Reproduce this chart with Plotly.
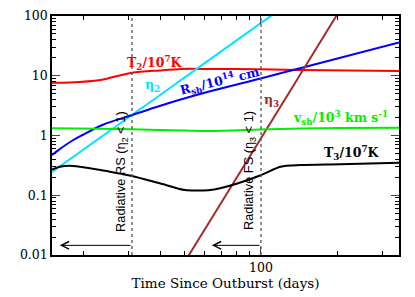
import numpy as np
import plotly.graph_objects as go

# ---- data ----
t2_days = [15, 17.6, 23.3, 31, 40, 48.5, 63, 99.7, 143, 350]
t2_vals = [7.6, 7.7, 8.5, 11.2, 12.3, 13.0, 13.0, 12.8, 12.5, 12.0]

rsh_days = [15, 15.9, 18.2, 19.8, 23.7, 31, 43.4, 63, 99.7, 143.8, 350]
rsh_vals = [0.47, 0.57, 0.84, 1.02, 1.5, 2.2, 3.5, 5.5, 9.0, 13.5, 36]

eta2_days = [15, 31, 60, 115]
eta2_vals = [0.245, 2.2, 16.3, 117]

eta3_days = [48, 52, 100, 198, 210]
eta3_vals = [0.0058, 0.01, 0.9, 100, 150]

vsh_days = [15, 23, 31, 50, 63, 100, 143, 205, 350]
vsh_vals = [1.32, 1.3, 1.27, 1.21, 1.19, 1.26, 1.31, 1.33, 1.35]

t3_days = [15, 16.1, 18.1, 23.3, 27.8, 31, 39.6, 50.2, 57.4, 63, 75.3, 99.7, 119.5, 143, 205, 350]
t3_vals = [0.27, 0.30, 0.31, 0.265, 0.23, 0.21, 0.16, 0.122, 0.12, 0.122, 0.144, 0.216, 0.30, 0.32, 0.33, 0.35]

rs_day = 31
fs_day = 100

x_ticks = [100]
x_ticklabels = ["100"]
y_ticks = [0.01, 0.1, 1, 10, 100]
y_ticklabels = ["0.01", "0.1", "1", "10", "100"]

FONT = "DejaVu Serif"
SANS = "Liberation Sans"

fig = go.Figure()

def add(x, y, color):
    fig.add_trace(go.Scatter(x=x, y=y, mode="lines", line=dict(color=color, width=2, shape="spline", smoothing=0.8),
                             showlegend=False, hoverinfo="skip"))

add(t2_days, t2_vals, "#ff0000")
add(eta2_days, eta2_vals, "#00e5ff")
add(rsh_days, rsh_vals, "#0000ff")
add(eta3_days, eta3_vals, "#a52a2a")
add(vsh_days, vsh_vals, "#00ee00")
add(t3_days, t3_vals, "#000000")

# vertical dotted lines
for d in (rs_day, fs_day):
    fig.add_shape(type="line", xref="x", yref="paper", x0=d, x1=d, y0=0, y1=1,
                  line=dict(color="#555555", width=1.3, dash="dot"))

# arrows
arrow_y = np.log10(0.0145)
for tail, head in ((rs_day, 16.1), (fs_day, 64)):
    fig.add_annotation(x=np.log10(head), y=arrow_y, ax=np.log10(tail), ay=arrow_y,
                       xref="x", yref="y", axref="x", ayref="y", text="",
                       showarrow=True, arrowhead=5, arrowsize=1.5, arrowwidth=1, arrowcolor="black")

def label(t, v, text, color, angle=0, size=12.5, family=FONT, weight="bold"):
    fig.add_annotation(x=np.log10(t), y=np.log10(v), text=text, showarrow=False,
                       textangle=angle, font=dict(family=family, size=size, color=color, weight=weight))

label(38.2, 16.3, "T<sub>2</sub>/10<sup>7</sup>K", "#ff0000")
label(37.4, 7.0, "η<sub>2</sub>", "#00e5ff")
label(68.9, 8.3, "R<sub>sh</sub>/10<sup>14</sup> cm", "#0000ff", angle=-13.5)
label(110, 3.9, "η<sub>3</sub>", "#a52a2a")
label(205, 1.96, "v<sub>sh</sub>/10<sup>3</sup> km s<sup>-1</sup>", "#00ee00")
label(228, 0.51, "T<sub>3</sub>/10<sup>7</sup>K", "#000000")
label(28.3, 0.255, "Radiative RS (η<sub>2</sub> &lt; 1)", "#000000", angle=-90, size=12.8, family=SANS, weight="normal")
label(90.6, 0.255, "Radiative FS (η<sub>3</sub> &lt; 1)", "#000000", angle=-90, size=12.8, family=SANS, weight="normal")

x_minor = [20, 30, 40, 50, 60, 70, 80, 90, 200, 300]
y_minor = [m * 10.0 ** e for e in (-2, -1, 0, 1) for m in range(2, 10)]

fig.update_xaxes(type="log", range=[np.log10(15), np.log10(350)], automargin=False,
                 tickvals=x_ticks, ticktext=x_ticklabels, ticks="inside", ticklen=8, tickwidth=1,
                 minor=dict(tickvals=x_minor, ticks="inside", ticklen=4, tickwidth=1, tickcolor="black"),
                 showline=True, linecolor="black", linewidth=1.5, mirror="allticks",
                 showgrid=False, zeroline=False,
                 title=dict(text="Time Since Outburst (days)", font=dict(family=FONT, size=13.5, color="black"), standoff=4),
                 tickfont=dict(family=FONT, size=12.5, color="black"))
fig.update_yaxes(type="log", range=[-2, 2], automargin=False,
                 tickvals=y_ticks, ticktext=y_ticklabels, ticks="inside", ticklen=8, tickwidth=1,
                 minor=dict(tickvals=y_minor, ticks="inside", ticklen=4, tickwidth=1, tickcolor="black"),
                 showline=True, linecolor="black", linewidth=1.5, mirror="allticks",
                 showgrid=False, zeroline=False,
                 tickfont=dict(family=FONT, size=12.5, color="black"))

# the page body adds an 8px offset, so the figure is 8px smaller and its margins shifted
fig.update_layout(width=407, height=289, margin=dict(l=44, r=16, t=8, b=42, autoexpand=False),
                  plot_bgcolor="white", paper_bgcolor="white", showlegend=False)

fig.write_html("out.html")
